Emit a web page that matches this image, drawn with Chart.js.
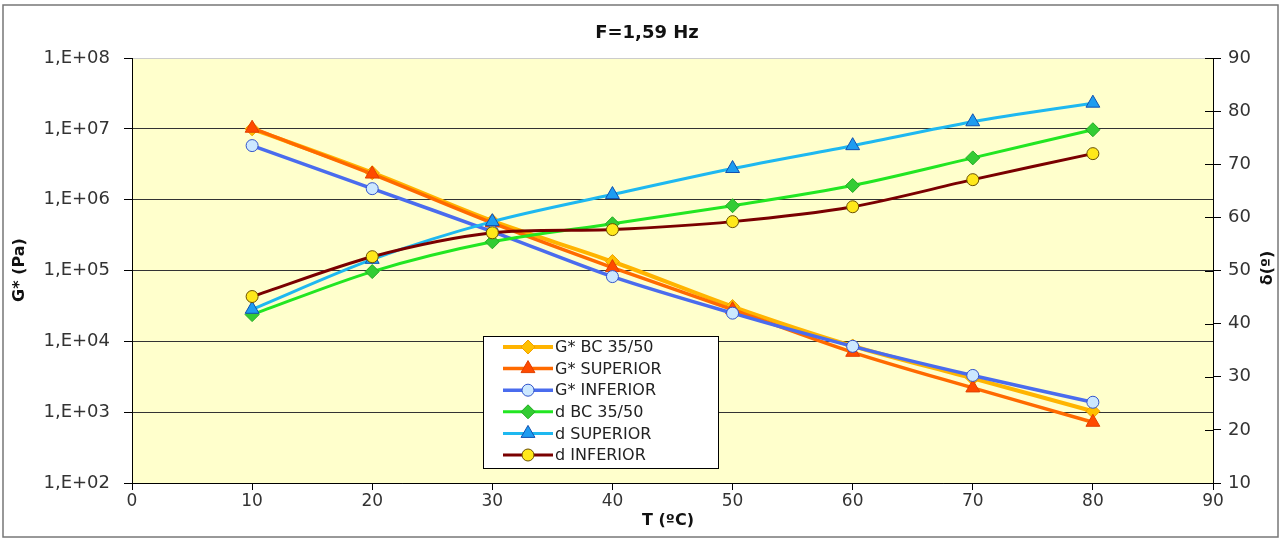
<!DOCTYPE html>
<html>
<head>
<meta charset="utf-8">
<script src="https://cdn.jsdelivr.net/npm/chart.js@4/dist/chart.umd.min.js"></script>
<style>
  body { margin: 0; background: #fff; }
  canvas { display: block; }
</style>
</head>
<body>
<canvas id="chart1" width="1281" height="541"></canvas>
<script>
// temperatures (ºC)
var temps = [10, 20, 30, 40, 50, 60, 70, 80];

// G* (Pa), left log axis
var gBC = [1.0e7, 2.4e6, 5.0e5, 1.34e5, 3.1e4, 8.6e3, 3.0e3, 1.03e3];
var gSup = [1.02e7, 2.3e6, 4.7e5, 1.1e5, 2.8e4, 7.0e3, 2.2e3, 720];
var gInf = [5.8e6, 1.43e6, 3.55e5, 8.2e4, 2.5e4, 8.5e3, 3.3e3, 1.38e3];

// delta (º), right axis
var dBC = [41.7, 49.8, 55.4, 58.8, 62.2, 66.0, 71.2, 76.5];
var dSup = [42.7, 52.1, 59.2, 64.3, 69.2, 73.5, 78.0, 81.5];
var dInf = [45.1, 52.6, 57.1, 57.7, 59.2, 62.0, 67.1, 72.0];

var leftTicks = [1e2, 1e3, 1e4, 1e5, 1e6, 1e7, 1e8];

function pts(ys) {
    return temps.map(function(t, i) { return {x: t, y: ys[i]}; });
}

var fontFam = '"DejaVu Sans", Arial, sans-serif';

// outer frame, plot background, titles, right-axis cross ticks, legend
var decor = {
    id: 'decor',
    beforeDraw: function(chart) {
        var c = chart.ctx, a = chart.chartArea;
        c.save();
        c.fillStyle = '#fff';
        c.fillRect(0, 0, chart.width, chart.height);
        c.strokeStyle = '#777';
        c.lineWidth = 1.5;
        c.strokeRect(3, 5, chart.width - 6, chart.height - 9);
        c.fillStyle = '#FFFFCC';
        c.fillRect(a.left, a.top, a.right - a.left, a.bottom - a.top);
        c.restore();
    },
    afterDraw: function(chart) {
        var c = chart.ctx, a = chart.chartArea;
        c.save();
        c.fillStyle = '#111';
        c.textAlign = 'center';
        c.textBaseline = 'middle';
        c.font = 'bold 18px ' + fontFam;
        c.fillText('F=1,59 Hz', 647, 33);
        c.font = 'bold 16px ' + fontFam;
        c.fillText('T (ºC)', 668, 521);
        c.save();
        c.translate(20, 270);
        c.rotate(-Math.PI / 2);
        c.fillText('G* (Pa)', 0, 0);
        c.restore();
        c.save();
        c.translate(1268, 268);
        c.rotate(-Math.PI / 2);
        c.fillText('δ(º)', 0, 0);
        c.restore();

        // right axis ticks cross into the plot
        var yr = chart.scales.yR;
        c.strokeStyle = '#000';
        c.lineWidth = 1;
        yr.ticks.forEach(function(t) {
            var y = Math.round(yr.getPixelForValue(t.value)) + 0.5;
            c.beginPath();
            c.moveTo(a.right - 8, y);
            c.lineTo(a.right, y);
            c.stroke();
        });

        // legend box
        var bx = 483, by = 336, bw = 235, bh = 132;
        c.fillStyle = '#fff';
        c.fillRect(bx, by, bw, bh);
        c.strokeStyle = '#000';
        c.lineWidth = 1;
        c.strokeRect(bx + 0.5, by + 0.5, bw, bh);
        c.textAlign = 'left';
        c.font = '16px ' + fontFam;
        chart.data.datasets.forEach(function(ds, i) {
            var y = by + 11 + i * 21.6;
            c.strokeStyle = ds.borderColor;
            c.lineWidth = ds.borderWidth;
            c.beginPath();
            c.moveTo(503, y);
            c.lineTo(553, y);
            c.stroke();
            c.fillStyle = ds.pointBackgroundColor;
            c.strokeStyle = ds.pointBorderColor;
            c.lineWidth = 1;
            Chart.helpers.drawPoint(c, {pointStyle: ds.pointStyle, radius: ds.pointRadius, rotation: 0, borderWidth: 1}, 528, y);
            c.fillStyle = '#222';
            c.fillText(ds.label, 555, y + 1);
        });
        c.restore();
    }
};

var ctx = document.getElementById('chart1').getContext('2d');
var chart = new Chart(ctx, {
    type: 'line',
    data: {
        datasets: [{
            label: 'G* BC 35/50',
            data: pts(gBC),
            yAxisID: 'yL',
            order: 6,
            borderColor: '#FFB400',
            borderWidth: 4,
            pointStyle: 'rectRot',
            pointRadius: 7,
            pointBorderWidth: 1,
            pointBackgroundColor: '#FFC000',
            pointBorderColor: '#F0A000'
        }, {
            label: 'G* SUPERIOR',
            data: pts(gSup),
            yAxisID: 'yL',
            order: 5,
            borderColor: '#FF6A00',
            borderWidth: 3.5,
            pointStyle: 'triangle',
            pointRadius: 8,
            pointBorderWidth: 1,
            pointBackgroundColor: '#FF4A00',
            pointBorderColor: '#E04000'
        }, {
            label: 'G* INFERIOR',
            data: pts(gInf),
            yAxisID: 'yL',
            order: 4,
            borderColor: '#4A6CEE',
            borderWidth: 3.5,
            pointStyle: 'circle',
            pointRadius: 6,
            pointBorderWidth: 1,
            pointBackgroundColor: '#CCE8FF',
            pointBorderColor: '#3355CC'
        }, {
            label: 'd BC 35/50',
            data: pts(dBC),
            yAxisID: 'yR',
            order: 3,
            borderColor: '#22E622',
            borderWidth: 3,
            pointStyle: 'rectRot',
            pointRadius: 7,
            pointBorderWidth: 1,
            pointBackgroundColor: '#33CC33',
            pointBorderColor: '#22AA22'
        }, {
            label: 'd SUPERIOR',
            data: pts(dSup),
            yAxisID: 'yR',
            order: 2,
            borderColor: '#1EB8F0',
            borderWidth: 3,
            pointStyle: 'triangle',
            pointRadius: 8,
            pointBorderWidth: 1,
            pointBackgroundColor: '#1E9CF0',
            pointBorderColor: '#1050B0'
        }, {
            label: 'd INFERIOR',
            data: pts(dInf),
            yAxisID: 'yR',
            order: 1,
            borderColor: '#7A0000',
            borderWidth: 3,
            pointStyle: 'circle',
            pointRadius: 6,
            pointBorderWidth: 1,
            pointBackgroundColor: '#FFE81A',
            pointBorderColor: '#6A5000'
        }]
    },
    options: {
        responsive: false,
        animation: false,
        devicePixelRatio: 1,
        layout: { padding: { top: 58, left: 0, right: 0, bottom: 0 } },
        elements: { line: { tension: 0.3 } },
        plugins: {
            legend: { display: false },
            title: { display: false },
            tooltip: { enabled: false }
        },
        scales: {
            x: {
                type: 'linear',
                min: 0, max: 90,
                ticks: { stepSize: 10, color: '#333', font: { size: 17, family: fontFam }, padding: 1, maxRotation: 0 },
                grid: { drawOnChartArea: false, tickLength: 7, tickColor: '#000' },
                border: { color: '#000' },
                afterFit: function(s) { s.height = 58; }
            },
            yL: {
                type: 'logarithmic',
                position: 'left',
                min: 1e2, max: 1e8,
                afterBuildTicks: function(s) {
                    s.ticks = leftTicks.map(function(v) { return {value: v}; });
                },
                ticks: {
                    color: '#333',
                    font: { size: 18, family: fontFam },
                    padding: 14,
                    callback: function(v) {
                        var e = Math.round(Math.log10(v));
                        return '1,E+' + (e < 10 ? '0' : '') + e;
                    }
                },
                grid: {
                    color: function(c) { return c.tick && c.tick.value === 1e8 ? '#cccccc' : '#333'; },
                    tickLength: 8,
                    tickColor: '#000'
                },
                border: { color: '#000' },
                afterFit: function(s) { s.width = 132; }
            },
            yR: {
                type: 'linear',
                position: 'right',
                min: 10, max: 90,
                ticks: { stepSize: 10, color: '#333', font: { size: 18, family: fontFam }, padding: 7 },
                grid: { drawOnChartArea: false, tickLength: 8, tickColor: '#000' },
                border: { color: '#000' },
                afterFit: function(s) { s.width = 68; }
            }
        }
    },
    plugins: [decor]
});
</script>
</body>
</html>
